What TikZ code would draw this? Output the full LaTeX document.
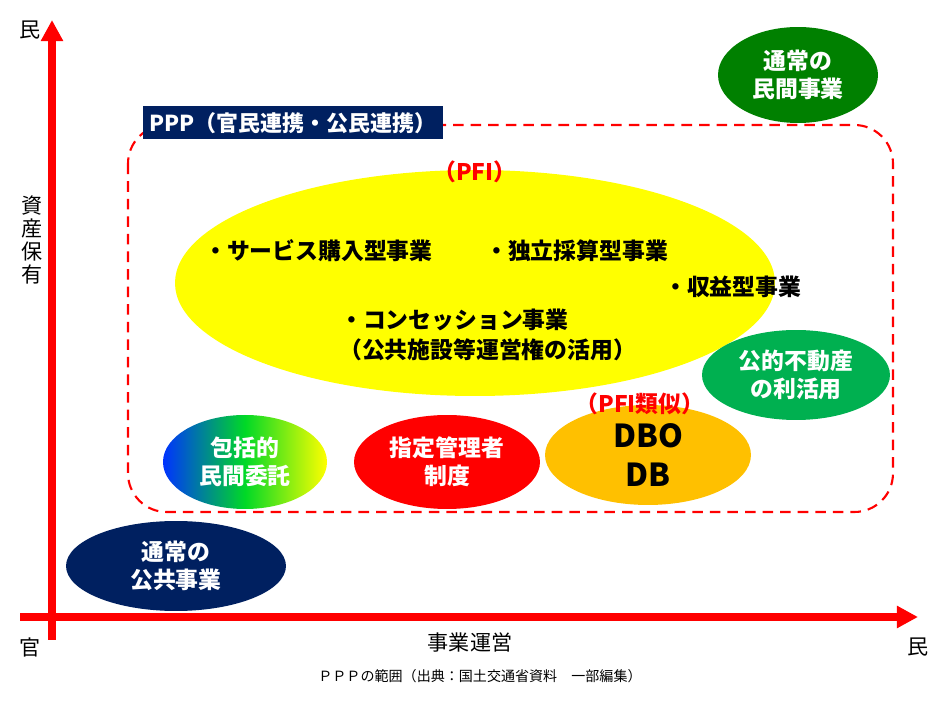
\documentclass[tikz,border=0pt]{standalone}
\usepackage{fontspec}
\setmainfont{Noto Sans CJK JP}
\usetikzlibrary{arrows.meta,shapes.geometric}

\definecolor{navy}{RGB}{0,32,96}
\definecolor{pppgreen}{RGB}{0,176,80}
\definecolor{darkgreen}{RGB}{0,128,0}
\definecolor{pfiyellow}{RGB}{255,255,0}
\definecolor{dboorange}{RGB}{255,192,0}

\begin{document}
\begin{tikzpicture}[
    x=0.02cm, y=-0.02cm,
    % axis arrows
    axis/.style = {red, line width=4pt, -{Triangle[length=12pt,width=12pt]}},
    % ellipse nodes
    oval/.style = {ellipse, draw=none, align=center, inner sep=0pt, font=\bfseries\fontsize{13pt}{16pt}\selectfont},
    redtext/.style = {red, font=\bfseries\fontsize{13pt}{15pt}\selectfont},
    item/.style = {font=\bfseries\fontsize{13pt}{15pt}\selectfont, anchor=west},
    label/.style = {font=\fontsize{12pt}{14pt}\selectfont}
    ]
    \useasboundingbox (0,0) rectangle (948,702);

    % axes
    \coordinate (O) at (52,617);
    \coordinate (Ytop) at (52,20);
    \coordinate (Xleft) at (20,617);
    \coordinate (Xright) at (918,617);
    \draw[axis] (52,640) -- (Ytop);
    \draw[axis] (Xleft) -- (Xright);

    \node[label] (ymax) at (30,30) {民};
    \node[label] (xmin) at (30,647) {官};
    \node[label] (xmax) at (918,647) {民};
    \node[label, align=center, text width=1em] (ylab) at (30,240) {資\\[-1pt]産\\[-1pt]保\\[-1pt]有};
    \node[label] (xlab) at (470,643) {事業運営};
    \node[font=\fontsize{8pt}{10pt}\selectfont] (caption) at (480,676) {ＰＰＰの範囲（出典：国土交通省資料　一部編集）};

    % PPP frame
    \draw[red, line width=1.2pt, dash pattern=on 6pt off 4pt, rounded corners=22pt]
        (128,125) rectangle (893,512);
    \node[fill=navy, text=white, font=\bfseries\fontsize{12.5pt}{15pt}\selectfont,
          minimum width=6cm, minimum height=0.66cm] (ppp) at (293,123) {PPP（官民連携・公民連携）};

    % PFI
    \fill[pfiyellow] (475,283) ellipse [x radius=300, y radius=113];
    \node[redtext] (pfi) at (475,172) {（PFI）};
    \node[item] (svc) at (198,251) {・サービス購入型事業};
    \node[item] (ind) at (479,251) {・独立採算型事業};
    \node[item] (inc) at (658,287) {・収益型事業};
    \node[item] (con) at (334,320) {・コンセッション事業};
    \node[item] (pub) at (333,350) {（公共施設等運営権の活用）};

    % other schemes
    \node[oval, fill=pppgreen, text=white, minimum width=3.76cm, minimum height=1.8cm] (pre) at (796,375) {公的不動産\\の利活用};
    \node[oval, fill=darkgreen, text=white, minimum width=3.2cm, minimum height=1.92cm] (priv) at (798,75) {通常の\\民間事業};
    \shade[left color=blue!80!cyan, right color=yellow, middle color=green!70!teal]
        (245,462) ellipse [x radius=82, y radius=47];
    \node[oval, text=white] (comp) at (245,462) {包括的\\民間委託};
    \node[oval, fill=red, text=white, minimum width=3.72cm, minimum height=1.88cm] (desig) at (447,462) {指定管理者\\制度};
    \node[oval, fill=dboorange, minimum width=4.12cm, minimum height=2cm,
          font=\bfseries\fontsize{18pt}{22pt}\selectfont] (dbo) at (648,455) {DBO\\DB};
    \node[redtext] (pfisim) at (640,404) {（PFI類似）};
    \node[oval, fill=navy, text=white, minimum width=4.4cm, minimum height=1.8cm] (pubw) at (176,566) {通常の\\公共事業};
\end{tikzpicture}
\end{document}
